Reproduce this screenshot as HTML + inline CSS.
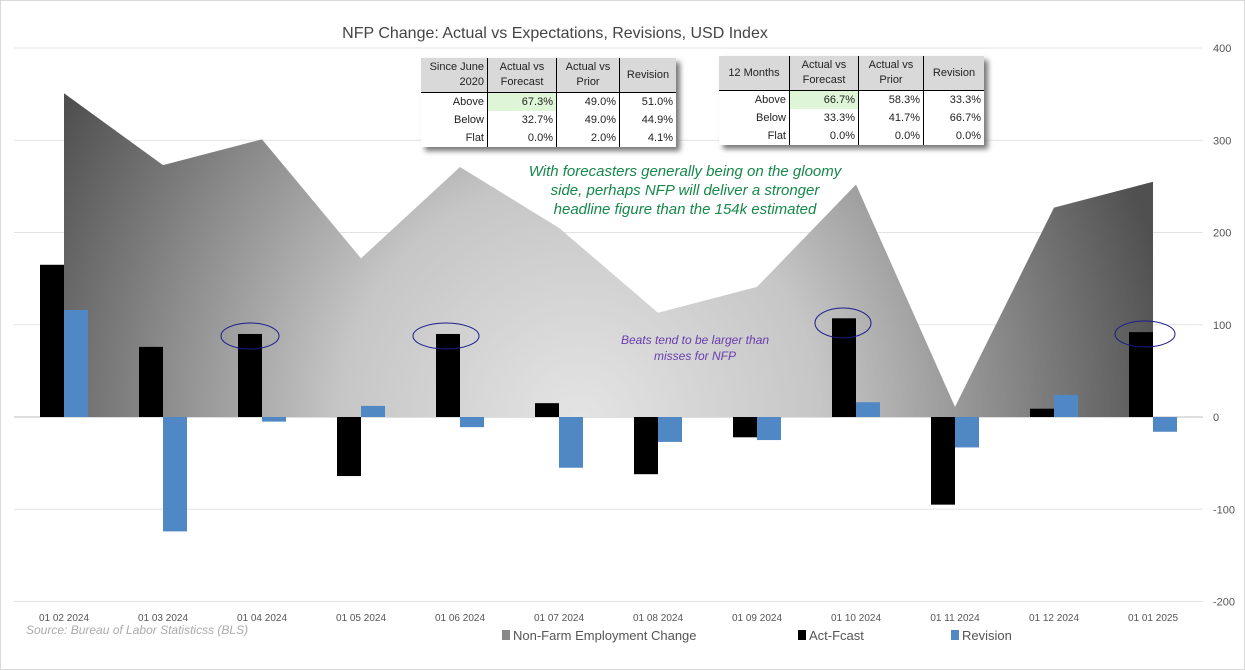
<!DOCTYPE html>
<html><head><meta charset="utf-8"><style>
body{margin:0;width:1245px;height:670px;background:#fff;overflow:hidden;font-family:"Liberation Sans",sans-serif}
#frame{position:absolute;left:0;top:0;width:1243px;height:668px;border:1px solid #d9d9d9}
table{position:absolute;border-collapse:collapse;font-size:11px;color:#222;background:#fff;box-shadow:4px 4px 5px #777}
td{padding:0 3px;text-align:right;height:18px;border-right:1px solid #000}
td:last-child{border-right:none}
tr.h td{background:#d9d9d9;text-align:center;height:34px;border-bottom:1px solid #000;line-height:15px}
td.g{background:#dff5d8}
</style></head><body>
<div id="frame"></div>
<svg id="chart" width="1245" height="670" style="position:absolute;left:0;top:0">
<defs>
<radialGradient id="ag" gradientUnits="userSpaceOnUse" cx="580" cy="420" r="600">
<stop offset="0" stop-color="#e4e4e4"/><stop offset="0.4" stop-color="#c6c6c6"/><stop offset="1" stop-color="#505050"/>
</radialGradient>
</defs>
<text x="555" y="38" font-size="16" fill="#444" text-anchor="middle">NFP Change: Actual vs Expectations, Revisions, USD Index</text>
<g id="grid"></g><g id="area"></g><g id="bars"></g><g id="ticks"></g>
<ellipse cx="250" cy="336" rx="29" ry="13" fill="none" stroke="#1c1c8c" stroke-width="1"/>
<ellipse cx="446" cy="336" rx="33" ry="13" fill="none" stroke="#1c1c8c" stroke-width="1"/>
<ellipse cx="843" cy="323" rx="28" ry="15" fill="none" stroke="#1c1c8c" stroke-width="1"/>
<ellipse cx="1145" cy="334" rx="30" ry="13" fill="none" stroke="#1c1c8c" stroke-width="1"/>
<g font-style="italic" font-size="15" fill="#15884a" text-anchor="middle">
<text x="685" y="176">With forecasters generally being on the gloomy</text>
<text x="685" y="195">side, perhaps NFP will deliver a stronger</text>
<text x="685" y="214">headline figure than the 154k estimated</text></g>
<g font-style="italic" font-size="12" fill="#6a3cb0" text-anchor="middle">
<text x="695" y="344">Beats tend to be larger than</text>
<text x="695" y="360">misses for NFP</text></g>
<text x="26" y="634" font-size="12" font-style="italic" fill="#aaa">Source: Bureau of Labor Statisticss (BLS)</text>
<g font-size="13" fill="#555">
<rect x="502" y="630" width="8" height="10" fill="#888"/><text x="513" y="640">Non-Farm Employment Change</text>
<rect x="798" y="630" width="8" height="10" fill="#000"/><text x="809" y="640">Act-Fcast</text>
<rect x="951" y="630" width="8" height="10" fill="#4f88c4"/><text x="962" y="640">Revision</text></g>
</svg>
<table style="left:421px;top:58px">
<tr class="h"><td style="text-align:right;width:60px">Since June<br>2020</td><td style="width:62px">Actual vs<br>Forecast</td><td style="width:56px">Actual vs<br>Prior</td><td style="width:50px">Revision</td></tr>
<tr><td>Above</td><td class="g">67.3%</td><td>49.0%</td><td>51.0%</td></tr>
<tr><td>Below</td><td>32.7%</td><td>49.0%</td><td>44.9%</td></tr>
<tr><td>Flat</td><td>0.0%</td><td>2.0%</td><td>4.1%</td></tr></table>
<table style="left:719px;top:56px">
<tr class="h"><td style="text-align:center;width:64px">12 Months</td><td style="width:62px">Actual vs<br>Forecast</td><td style="width:58px">Actual vs<br>Prior</td><td style="width:54px">Revision</td></tr>
<tr><td>Above</td><td class="g">66.7%</td><td>58.3%</td><td>33.3%</td></tr>
<tr><td>Below</td><td>33.3%</td><td>41.7%</td><td>66.7%</td></tr>
<tr><td>Flat</td><td>0.0%</td><td>0.0%</td><td>0.0%</td></tr></table>
<script>
const categories=["01 02 2024","01 03 2024","01 04 2024","01 05 2024","01 06 2024","01 07 2024","01 08 2024","01 09 2024","01 10 2024","01 11 2024","01 12 2024","01 01 2025"];
const nfpValues=[351,273,301,172,271,205,113,141,252,11,227,255];
const actFcastValues=[165,76,90,-64,90,15,-62,-22,107,-95,9,92];
const revisionValues=[116,-124,-5,12,-11,-55,-27,-25,16,-33,24,-16];
const yTicks=[400,300,200,100,0,-100,-200];
const NS="http://www.w3.org/2000/svg";
function y(v){return 417-v*0.9225;}
function x(i){return 64+i*99;}
function mk(t,a,p){const e=document.createElementNS(NS,t);for(const k in a)e.setAttribute(k,a[k]);p.appendChild(e);return e;}
const grid=document.getElementById('grid'),ticks=document.getElementById('ticks'),bars=document.getElementById('bars'),area=document.getElementById('area');
yTicks.forEach(v=>{
 const l=mk('line',{x1:14,x2:1203,y1:y(v),y2:y(v),stroke:v===0?'#bfbfbf':'#e3e3e3','stroke-width':1},grid);
 
 
 const t=mk('text',{x:1213,y:y(v)+4,'font-size':11,fill:'#555'},ticks);t.textContent=v;
 
 
});
let d='M'+x(0)+','+y(0);
nfpValues.forEach((v,i)=>{d+=' L'+x(i)+','+y(v);});
d+=' L'+x(nfpValues.length-1)+','+y(0)+' Z';
const ap=mk('path',{d:d,fill:'url(#ag)'},area);


categories.forEach((c,i)=>{
 const a=actFcastValues[i],r=revisionValues[i];
 const b=mk('rect',{x:x(i)-24,width:24,y:Math.min(y(a),y(0)),height:Math.abs(y(a)-y(0)),fill:'#000'},bars);
 
 
 const rb=mk('rect',{x:x(i),width:24,y:Math.min(y(r),y(0)),height:Math.abs(y(r)-y(0)),fill:'#4f88c4'},bars);
 
 
 const t=mk('text',{x:x(i),y:621,'font-size':10,fill:'#555','text-anchor':'middle'},ticks);t.textContent=c;
 
 
});
</script>
</body></html>
